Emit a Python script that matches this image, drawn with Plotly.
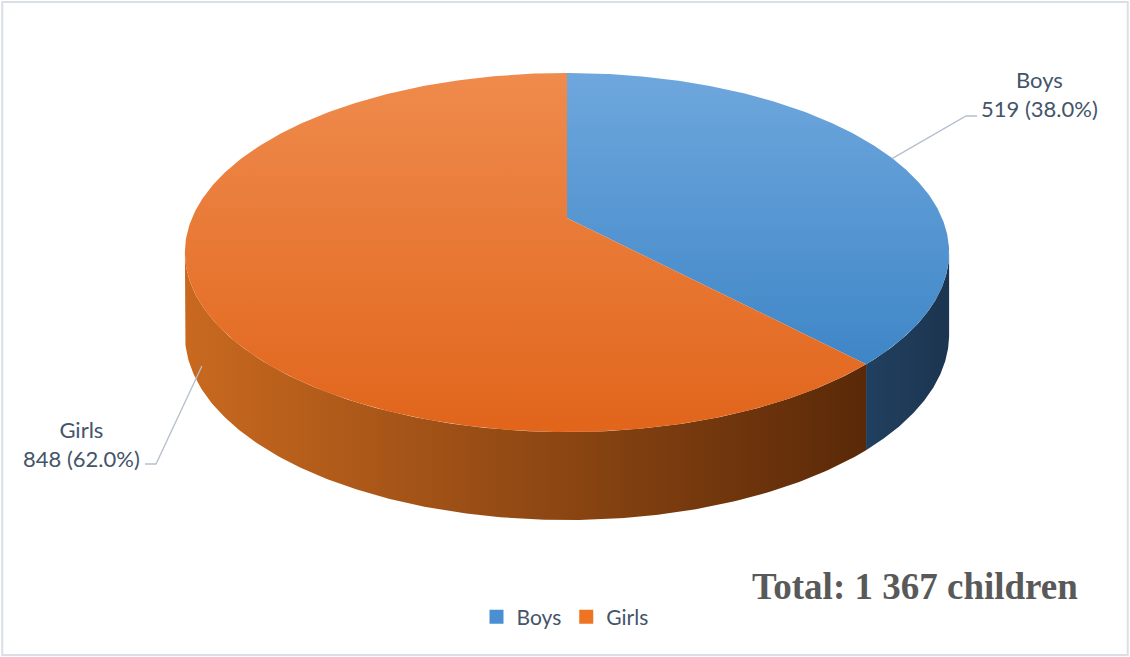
import numpy as np
import plotly.graph_objects as go

# ---- data ----
categories = ["Boys", "Girls"]
counts = [519, 848]
percent_labels = ["38.0%", "62.0%"]
total_text = "Total: 1 367 children"

# ---- style ----
top_colors = {"Boys": ["#6EA7DD", "#3F86C7"], "Girls": ["#EF8B4D", "#E1651B"]}
side_colors = {"Boys": ["#21405F", "#1C3550"], "Girls": ["#C9691F", "#5A2908"]}
legend_colors = {"Boys": "#4A8FD2", "Girls": "#EE7424"}
text_color = "#44546A"
font_family = "Lato, 'Open Sans', sans-serif"

# ---- 3D-ish projection geometry (pixel space) ----
W, H = 1130, 657
cx, cy = 567, 218
A, B, k = 172.9, 375.0, 0.192
depth_front, kd = 88.0, 0.08


def proj(phi_deg, drop=0.0):
    phi = np.radians(phi_deg)
    u = np.sin(phi)
    v = -np.cos(phi)
    s = 1.0 / (1.0 - k * v)
    x = cx + B * u * s
    d = depth_front * (1 - kd) / (1 - kd * v)
    y = cy + A * v * s + drop * d
    return x, y


total = sum(counts)
fracs = [c / total for c in counts]
starts = np.cumsum([0] + fracs[:-1]) * 360
ends = np.cumsum(fracs) * 360

# silhouette angles (where side faces are visible)
phi_r = 180 - np.degrees(np.arcsin(np.sqrt(1 - k ** 2)))  # ~101
phi_l = 360 - phi_r

fig = go.Figure()

# sides
for cat, a0, a1 in zip(categories, starts, ends):
    lo, hi = max(a0, phi_r), min(a1, phi_l)
    if hi <= lo:
        continue
    ph = np.linspace(lo, hi, 200)
    xt, yt = proj(ph, 0)
    xb, yb = proj(ph[::-1], 1)
    xs = np.concatenate([xt, xb, xt[:1]])
    ys = np.concatenate([yt, yb, yt[:1]])
    c0, c1 = side_colors[cat]
    fig.add_trace(go.Scatter(
        x=xs, y=ys, mode="lines", fill="toself", line=dict(width=0, color=c1),
        fillgradient=dict(type="horizontal", colorscale=[[0, c0], [1, c1]],
                          start=float(xs.min()), stop=float(xs.max())),
        hoverinfo="skip", showlegend=False))

# top faces
for cat, a0, a1 in zip(categories, starts, ends):
    ph = np.linspace(a0, a1, 300)
    xa, ya = proj(ph, 0)
    xs = np.concatenate([[cx], xa, [cx]])
    ys = np.concatenate([[cy], ya, [cy]])
    c0, c1 = top_colors[cat]
    fig.add_trace(go.Scatter(
        x=xs, y=ys, mode="lines", fill="toself", line=dict(width=0, color=c1),
        fillgradient=dict(type="vertical", colorscale=[[0, c0], [1, c1]],
                          start=float(ys.min()), stop=float(ys.max())),
        hoverinfo="skip", showlegend=False))

# legend entries
for cat in categories:
    fig.add_trace(go.Scatter(
        x=[None], y=[None], mode="markers", name=cat,
        marker=dict(symbol="square", size=14, color=legend_colors[cat])))

# data labels with leader lines
mids = (starts + ends) / 2
label_pos = {"Boys": (1039, 94, "right"), "Girls": (81, 444, "left")}
for cat, cnt, pct, m in zip(categories, counts, percent_labels, mids):
    lx, ly, side = label_pos[cat]
    if side == "right":
        ax, ay = proj(m, 0)
        pts_x = [ax, 966, 977]
        pts_y = [ay, 116, 116]
    else:
        ax, ay = proj(m, 0.95)
        ax += 10
        pts_x = [ax, 156, 145]
        pts_y = [ay, 464, 464]
    fig.add_trace(go.Scatter(x=pts_x, y=pts_y, mode="lines",
                             line=dict(color="#B4BFCD", width=1.3),
                             hoverinfo="skip", showlegend=False))
    fig.add_annotation(x=lx, y=ly, xref="x", yref="y", showarrow=False,
                       text=f"{cat}<br>{cnt} ({pct})", align="center",
                       font=dict(family=font_family, size=22, color=text_color))

fig.add_annotation(x=915, y=586, xref="x", yref="y", showarrow=False,
                   text=f"<b>{total_text}</b>",
                   font=dict(family="'Liberation Serif', 'Times New Roman', serif",
                             size=37, color="#595959"))

fig.add_shape(type="rect", xref="paper", yref="paper", x0=0.002, y0=0.003,
              x1=0.998, y1=0.997, line=dict(color="#DADFE6", width=2))

fig.update_layout(
    width=W, height=H, margin=dict(l=0, r=0, t=0, b=0),
    paper_bgcolor="white", plot_bgcolor="white",
    xaxis=dict(range=[0, W], visible=False, fixedrange=True),
    yaxis=dict(range=[H, 0], visible=False, fixedrange=True),
    legend=dict(orientation="h", x=0.5, xanchor="center", y=1 - 617 / H,
                yanchor="middle", font=dict(family=font_family, size=21, color=text_color),
                itemwidth=30, traceorder="normal"),
    showlegend=True,
)

fig.write_html("out.html", config={"displayModeBar": False},
               post_script="document.body.style.margin='0';document.body.style.overflow='hidden';")
